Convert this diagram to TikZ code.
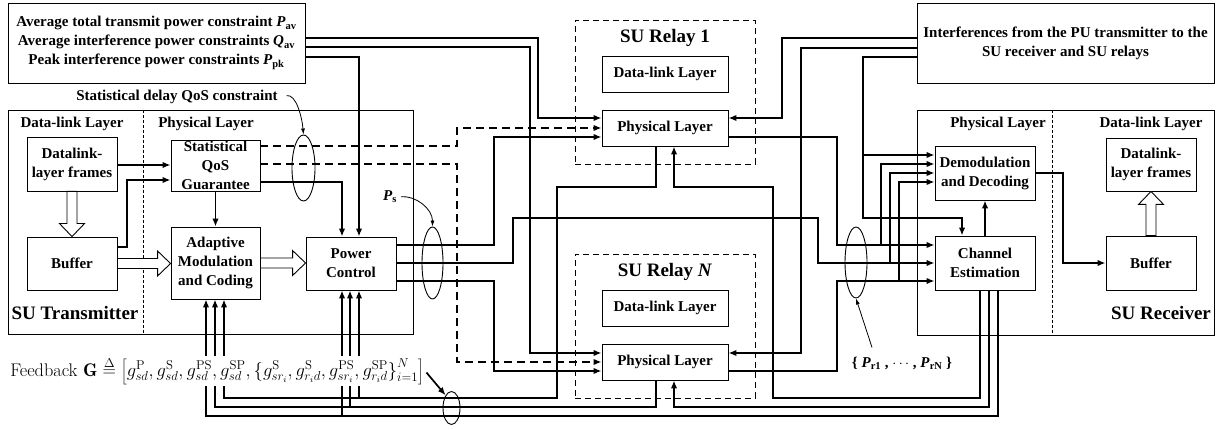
\documentclass[tikz,border=0pt]{standalone}
\usepackage{fontspec}
\newfontfamily\tnr{Liberation Serif}
\usetikzlibrary{arrows.meta,shapes.geometric,calc}
% hollow block arrow from #1 to #2
\newcommand{\hollowarrow}[2]{%
 \draw[line width=.9pt,fill=white] let \p1=(#1),\p2=(#2),\n1={atan2(\y2-\y1,\x2-\x1)},\n2={veclen(\x2-\x1,\y2-\y1)} in
 [shift={(\p1)},rotate=\n1] (0pt,-5pt) -- ({\n2*1pt-13pt},-5pt) -- ({\n2*1pt-13pt},-12.5pt) -- ({\n2*1pt},0pt)
 -- ({\n2*1pt-13pt},12.5pt) -- ({\n2*1pt-13pt},5pt) -- (0pt,5pt) -- cycle;}
\tikzset{
 blk/.style={draw,line width=.9pt,align=center,inner sep=1pt},
 outer/.style={draw,line width=.8pt,inner sep=0pt},
 relaybox/.style={draw,line width=.8pt,dash pattern=on 6pt off 4pt,inner sep=0pt},
 divider/.style={line width=.7pt,dash pattern=on 3pt off 2pt},
 wire/.style={line width=1.7pt},
 arr/.style={wire,-{Latex[length=8pt,width=6.5pt]}},
 darr/.style={arr,dash pattern=on 8pt off 5pt},
 thinarr/.style={line width=.8pt,-{Latex[length=6pt,width=4pt]}},
 grp/.style={draw,ellipse,line width=.9pt,inner sep=0pt},
 lbl/.style={inner sep=1pt},
 ttl/.style={inner sep=1pt,font=\tnr\bfseries\fontsize{19}{22}\selectfont},
}
\begin{document}
\begin{tikzpicture}[x=1pt,y=-1pt,font=\tnr\bfseries\fontsize{15}{19}\selectfont]
\useasboundingbox (0,0) rectangle (1225,430);
% constraint and interference boxes
\node[blk,minimum width=297pt,minimum height=80pt] (cons) at (156.5,43) {Average total transmit power constraint \textit{P}\textsubscript{av}\\Average interference power constraints \textit{Q}\textsubscript{av}\\Peak interference power constraints \textit{P}\textsubscript{pk}};
\node[blk,minimum width=297pt,minimum height=80pt] (intf) at (1065.5,43) {Interferences from the PU transmitter to the\\SU receiver and SU relays};
% SU transmitter
\node[outer,minimum width=405pt,minimum height=224pt] (tx) at (210.5,222) {};
\draw[divider] (tx.north -| 143,0) -- (tx.south -| 143,0);
\node[lbl] (txdll) at (72,124) {Data-link Layer};
\node[lbl] (txphl) at (206,124) {Physical Layer};
\node[ttl] (txname) at (75,313) {SU Transmitter};
\node[blk,minimum width=90pt,minimum height=54pt] (txframes) at (72,164) {Datalink-\\layer frames};
\node[blk,minimum width=90pt,minimum height=53pt] (txbuf) at (72,263.5) {Buffer};
\node[blk,minimum width=89pt,minimum height=51pt] (stat) at (215.5,165.5) {Statistical\\QoS\\Guarantee};
\node[blk,minimum width=89pt,minimum height=72pt] (amc) at (215.5,263) {Adaptive\\Modulation\\and Coding};
\node[blk,minimum width=90pt,minimum height=53pt] (pc) at (351,263.5) {Power\\Control};
% SU relays
\node[relaybox,minimum width=180pt,minimum height=144pt] (r1) at (665,92) {};
\node[ttl] (r1name) at (665,38) {SU Relay 1};
\node[blk,minimum width=126pt,minimum height=36pt] (r1dl) at (665,74) {Data-link Layer};
\node[blk,minimum width=126pt,minimum height=36pt] (r1ph) at (665,128) {Physical Layer};
\node[relaybox,minimum width=180pt,minimum height=144pt] (rN) at (665,326) {};
\node[ttl] (rNname) at (665,272) {SU Relay \textit{N}};
\node[blk,minimum width=126pt,minimum height=36pt] (rNdl) at (665,308) {Data-link Layer};
\node[blk,minimum width=126pt,minimum height=36pt] (rNph) at (665,362) {Physical Layer};
% SU receiver
\node[outer,minimum width=297pt,minimum height=225pt] (rx) at (1065.5,222.5) {};
\draw[divider] (rx.north -| 1052,0) -- (rx.south -| 1052,0);
\node[lbl] (rxphl) at (998,124) {Physical Layer};
\node[lbl] (rxdll) at (1151,124) {Data-link Layer};
\node[ttl] (rxname) at (1161,313) {SU Receiver};
\node[blk,minimum width=100pt,minimum height=54pt] (demod) at (985,173) {Demodulation\\and Decoding};
\node[blk,minimum width=100pt,minimum height=54pt] (ce) at (985,263) {Channel\\Estimation};
\node[blk,minimum width=90pt,minimum height=53pt] (rxframes) at (1151,164.5) {Datalink-\\layer frames};
\node[blk,minimum width=90pt,minimum height=54pt] (rxbuf) at (1151,263) {Buffer};
% inside the transmitter
\hollowarrow{txframes.south}{txbuf.north}
\hollowarrow{txbuf.east}{txbuf.east -| amc.west}
\hollowarrow{amc.east}{amc.east -| pc.west}
\draw[arr] (txframes.east |- 0,165) -- (stat.west |- 0,165);
\draw[arr] (txbuf.east |- 0,247) -- (127,247) -- (127,180) -- (stat.west |- 0,180);
\draw[arr] (stat.south) -- (amc.north);
\draw[arr] (stat.east |- 0,182) -- (342,182) -- (pc.north -| 342,0);
% constraints
\draw[arr] (cons.east |- 0,38) -- (538,38) -- (538,118) -- (r1ph.west |- 0,118);
\draw[arr] (cons.east |- 0,47) -- (530,47) -- (530,353) -- (rNph.west |- 0,353);
\draw[arr] (cons.east |- 0,57) -- (359,57) -- (pc.north -| 359,0);
% QoS to relays
\draw[darr] (stat.east |- 0,146) -- (457,146) -- (457,128) -- (r1ph.west |- 0,128);
\draw[darr] (stat.east |- 0,164) -- (457,164) -- (457,362) -- (rNph.west |- 0,362);
% transmit power
\draw[arr] (pc.east |- 0,245) -- (494,245) -- (494,137) -- (r1ph.west |- 0,137);
\draw[arr] (pc.east |- 0,263) -- (513,263) -- (513,218) -- (818,218) -- (818,263) -- (ce.west |- 0,263);
\draw[arr] (pc.east |- 0,281) -- (494,281) -- (494,371) -- (rNph.west |- 0,371);
% PU interference
\draw[arr] (intf.west |- 0,38) -- (782,38) -- (782,118) -- (r1ph.east |- 0,118);
\draw[arr] (intf.west |- 0,48) -- (801,48) -- (801,353) -- (rNph.east |- 0,353);
\draw[arr] (intf.west |- 0,57) -- (863,57) -- (863,218) -- (962,218) -- (ce.north -| 962,0);
\coordinate (tapi) at (863,155);
\draw[arr] (tapi) -- (demod.west |- tapi);
% relays to receiver
\draw[arr] (r1ph.east |- 0,137) -- (837,137) -- (837,245) -- (ce.west |- 0,245);
\draw[arr] (rNph.east |- 0,371) -- (837,371) -- (837,281) -- (ce.west |- 0,281);
\coordinate (tapa) at (881,245); \coordinate (tapb) at (890,263); \coordinate (tapc) at (899,281);
\draw[arr] (tapa) -- (881,164) -- (demod.west |- 0,164);
\draw[arr] (tapb) -- (890,173) -- (demod.west |- 0,173);
\draw[arr] (tapc) -- (899,182) -- (demod.west |- 0,182);
\draw[arr] (ce.north) -- (demod.south);
\draw[arr] (demod.east) -- (1063,173) -- (1063,263) -- (rxbuf.west);
\hollowarrow{rxbuf.north}{rxframes.south}
% feedback
\draw[arr] (ce.south -| 980,0) -- (980,398) -- (773,398) -- (773,187) -- (674,187) -- (r1ph.south -| 674,0);
\draw[arr] (ce.south -| 989,0) -- (989,407) -- (674,407) -- (rNph.south -| 674,0);
\draw[arr] (ce.south -| 998,0) -- (998,416) -- (206,416) -- (amc.south -| 206,0);
\draw[arr] (r1ph.south -| 656,0) -- (656,187) -- (557,187) -- (557,398) -- (224,398) -- (amc.south -| 224,0);
\draw[arr] (rNph.south -| 656,0) -- (656,407) -- (215,407) -- (amc.south -| 215,0);
\coordinate (fba) at (342,416); \coordinate (fbb) at (350,407); \coordinate (fbc) at (359,398);
\draw[arr] (fba) -- (pc.south -| fba);
\draw[arr] (fbb) -- (pc.south -| fbb);
\draw[arr] (fbc) -- (pc.south -| fbc);
% groupings and labels
\node[grp,minimum width=23pt,minimum height=66pt] (statell) at (303.5,168) {};
\node[grp,minimum width=21pt,minimum height=72pt] (psell) at (432.5,263) {};
\node[grp,minimum width=22pt,minimum height=71pt] (prell) at (856,262.5) {};
\node[grp,minimum width=17pt,minimum height=33pt] (fbell) at (451.5,408) {};
\node[lbl] (statlbl) at (177,97) {Statistical delay QoS constraint};
\draw[thinarr,shorten <=8pt] (statlbl.east) to[out=10,in=95] (statell.north);
\node[lbl] (pslbl) at (390,197) {\textit{P}\textsubscript{s}};
\draw[thinarr,shorten <=3pt] (pslbl.east) to[out=5,in=90] (psell.north);
\node[lbl] (prlbl) at (902,363) {\{ \textit{P}\textsubscript{r1} , $\cdots$ , \textit{P}\textsubscript{rN} \}};
\draw[thinarr] ($(prlbl.north)+(-30,-8)$) -- (prell.south);
\node[lbl,fill=white,anchor=west,scale=1.075,transform shape,font=\rmfamily\mdseries\fontsize{17}{20}\selectfont] (fblbl) at (9,371) {Feedback $\mathbf{G}\stackrel{\Delta}{=}\left[g_{sd}^{\mathrm{P}},g_{sd}^{\mathrm{S}},g_{sd}^{\mathrm{PS}},g_{sd}^{\mathrm{SP}},\big\{g_{sr_i}^{\mathrm{S}},g_{r_id}^{\mathrm{S}},g_{sr_i}^{\mathrm{PS}},g_{r_id}^{\mathrm{SP}}\big\}_{i=1}^{N}\right]$};
\draw[wire,-{Latex[length=8pt,width=6.5pt]},shorten <=2pt] (fblbl.east) -- (fbell.115);
\end{tikzpicture}
\end{document}
